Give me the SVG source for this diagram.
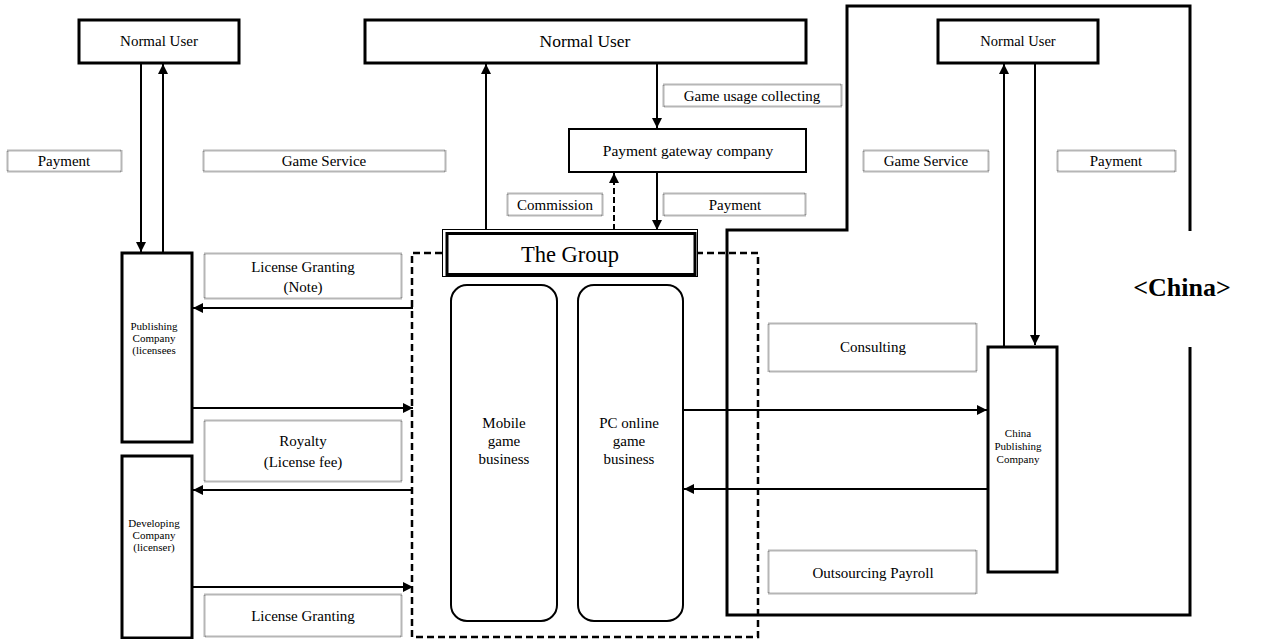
<svg xmlns="http://www.w3.org/2000/svg" width="1269" height="639" viewBox="0 0 1269 639">
<defs>
<style>
text{font-family:"Liberation Serif","Times New Roman",serif;fill:#000;text-anchor:middle}
.box{fill:#fff;stroke:#000;stroke-width:3}
.lbl{fill:#fff;stroke:#6e6e6e;stroke-width:2;stroke-dasharray:1 1}
.ln{fill:none;stroke:#000;stroke-width:2}
.t15{font-size:15px}
.sm{font-size:11px}
</style>
<marker id="ah" viewBox="0 0 10 10" refX="10" refY="5" markerWidth="10" markerHeight="10" markerUnits="userSpaceOnUse" orient="auto">
<path d="M0,0 L10,5 L0,10 z" fill="#000"/>
</marker>
</defs>
<rect width="1269" height="639" fill="#fff"/>

<!-- China boundary -->
<g id="china-region">
<polyline class="ln" style="stroke-width:3" points="1190,231 1190,6 847,6 847,230 727,230 727,615 1190,615 1190,347"/>
<text x="1182" y="296" style="font-size:26px;font-weight:bold">&lt;China&gt;</text>
</g>

<!-- Group dashed boundary -->
<g id="group-boundary">
<polyline fill="none" stroke="#000" stroke-width="2.5" stroke-dasharray="7 4" points="442,253 412,253 412,637 758,637 758,253 697,253"/>
</g>

<g id="user-left">
<rect class="box" x="79" y="20" width="160" height="43"/>
<text class="t15" x="159" y="46">Normal User</text>
</g>
<g id="user-center">
<rect class="box" x="365" y="20" width="441" height="43"/>
<text x="585" y="47" style="font-size:17.5px">Normal User</text>
</g>
<g id="user-right">
<rect class="box" x="938" y="20" width="160" height="43"/>
<text x="1018" y="46" style="font-size:14.5px">Normal User</text>
</g>
<g id="payment-gateway">
<rect class="box" style="stroke-width:2" x="569" y="129" width="237" height="43"/>
<text x="688" y="156" style="font-size:15.5px">Payment gateway company</text>
</g>
<g id="the-group">
<rect fill="#fff" stroke="#000" stroke-width="1" x="442.5" y="229.5" width="255" height="47"/>
<rect fill="#fff" stroke="#000" stroke-width="3" x="447" y="233.5" width="248" height="41"/>
<text x="570" y="262" style="font-size:22.5px">The Group</text>
</g>
<g id="mobile-game">
<rect fill="#fff" stroke="#000" stroke-width="2" x="451" y="285" width="106" height="336" rx="16"/>
<text class="t15" x="504" y="428">Mobile</text>
<text class="t15" x="504" y="446">game</text>
<text class="t15" x="504" y="464">business</text>
</g>
<g id="pc-game">
<rect fill="#fff" stroke="#000" stroke-width="2" x="578" y="285" width="105" height="336" rx="16"/>
<text class="t15" x="629" y="428">PC online</text>
<text class="t15" x="629" y="446">game</text>
<text class="t15" x="629" y="464">business</text>
</g>
<g id="publishing-company">
<rect class="box" x="122" y="253" width="70" height="189"/>
<text class="sm" x="154" y="330">Publishing</text>
<text class="sm" x="154" y="342">Company</text>
<text class="sm" x="154" y="354">(licensees</text>
</g>
<g id="developing-company">
<rect class="box" x="122" y="456" width="70" height="182"/>
<text class="sm" x="154" y="527">Developing</text>
<text class="sm" x="154" y="539">Company</text>
<text class="sm" x="154" y="551">(licenser)</text>
</g>
<g id="china-publishing">
<rect class="box" x="988" y="347" width="69" height="225"/>
<text class="sm" x="1018" y="437">China</text>
<text class="sm" x="1018" y="450">Publishing</text>
<text class="sm" x="1018" y="463">Company</text>
</g>

<!-- labels -->
<g id="labels">
<rect class="lbl" x="7.5" y="150.5" width="114" height="21"/>
<text class="t15" x="64" y="166">Payment</text>
<rect class="lbl" x="203.5" y="150.5" width="242" height="21"/>
<text class="t15" x="324" y="166">Game Service</text>
<rect class="lbl" x="663.5" y="84.5" width="178" height="22"/>
<text class="t15" x="752" y="101">Game usage collecting</text>
<rect class="lbl" x="507.5" y="193.5" width="95" height="22"/>
<text class="t15" x="555" y="210">Commission</text>
<rect class="lbl" x="663.5" y="193.5" width="142" height="22"/>
<text class="t15" x="735" y="210">Payment</text>
<rect class="lbl" x="863.5" y="150.5" width="125" height="21"/>
<text class="t15" x="926" y="166">Game Service</text>
<rect class="lbl" x="1057.5" y="150.5" width="118" height="21"/>
<text class="t15" x="1116" y="166">Payment</text>
<rect class="lbl" x="204.5" y="253.5" width="197" height="45"/>
<text class="t15" x="303" y="272">License Granting</text>
<text class="t15" x="303" y="292">(Note)</text>
<rect class="lbl" x="204.5" y="420.5" width="197" height="61"/>
<text class="t15" x="303" y="446">Royalty</text>
<text class="t15" x="303" y="467">(License fee)</text>
<rect class="lbl" x="204.5" y="594.5" width="197" height="42"/>
<text class="t15" x="303" y="621">License Granting</text>
<rect class="lbl" x="768.5" y="323.5" width="208" height="48"/>
<text class="t15" x="873" y="352">Consulting</text>
<rect class="lbl" x="768.5" y="550.5" width="208" height="43"/>
<text class="t15" x="873" y="578">Outsourcing Payroll</text>
</g>

<!-- connectors -->
<g id="connectors">
<line class="ln" x1="141" y1="63" x2="141" y2="252" marker-end="url(#ah)"/>
<line class="ln" x1="163" y1="252" x2="163" y2="64" marker-end="url(#ah)"/>
<line class="ln" x1="486" y1="230" x2="486" y2="64" marker-end="url(#ah)"/>
<line class="ln" x1="657" y1="63" x2="657" y2="128" marker-end="url(#ah)"/>
<line class="ln" x1="657" y1="172" x2="657" y2="230" marker-end="url(#ah)"/>
<line class="ln" stroke-dasharray="6 3" x1="614" y1="230" x2="614" y2="173" marker-end="url(#ah)"/>
<line class="ln" x1="1004" y1="346" x2="1004" y2="64" marker-end="url(#ah)"/>
<line class="ln" x1="1035" y1="63" x2="1035" y2="345" marker-end="url(#ah)"/>
<line class="ln" x1="413" y1="308" x2="193" y2="308" marker-end="url(#ah)"/>
<line class="ln" x1="193" y1="408" x2="413" y2="408" marker-end="url(#ah)"/>
<line class="ln" x1="413" y1="490" x2="193" y2="490" marker-end="url(#ah)"/>
<line class="ln" x1="193" y1="587" x2="413" y2="587" marker-end="url(#ah)"/>
<line class="ln" x1="683" y1="410" x2="987" y2="410" marker-end="url(#ah)"/>
<line class="ln" x1="987" y1="489" x2="684" y2="489" marker-end="url(#ah)"/>
</g>
</svg>
